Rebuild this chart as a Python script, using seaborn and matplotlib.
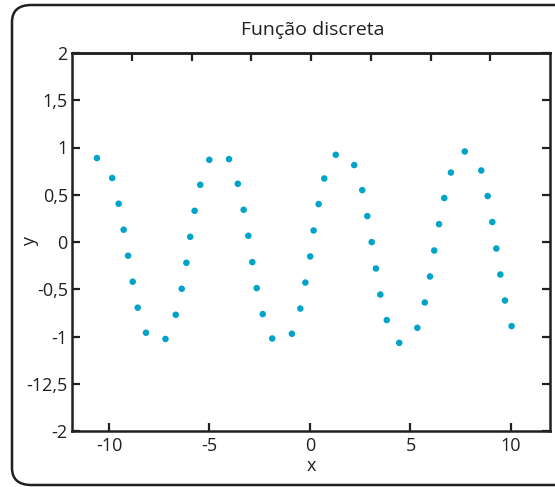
import numpy as np
import pandas as pd
import matplotlib
matplotlib.use("Agg")
import matplotlib.pyplot as plt
import seaborn as sns
from matplotlib.patches import FancyBboxPatch

# pontos
x_vals = [-10.60, -9.84, -9.52, -9.27, -9.05, -8.82, -8.57, -8.16,
          -7.19, -6.68, -6.38, -6.15, -5.96, -5.74, -5.46, -5.01,
          -4.03, -3.59, -3.30, -3.07, -2.87, -2.65, -2.35, -1.88,
          -0.90, -0.48, -0.23, 0.01, 0.18, 0.43, 0.71, 1.28,
          2.20, 2.60, 2.85, 3.07, 3.28, 3.50, 3.82, 4.44,
          5.34, 5.71, 5.97, 6.18, 6.42, 6.68, 7.01, 7.70,
          8.52, 8.84, 9.07, 9.27, 9.47, 9.70, 10.03]
y_vals = [0.888, 0.677, 0.405, 0.130, -0.145, -0.420, -0.695, -0.960,
          -1.026, -0.770, -0.495, -0.220, 0.055, 0.330, 0.605, 0.870,
          0.877, 0.616, 0.341, 0.066, -0.213, -0.488, -0.763, -1.021,
          -0.971, -0.704, -0.429, -0.153, 0.122, 0.401, 0.672, 0.923,
          0.814, 0.549, 0.274, -0.001, -0.280, -0.556, -0.826, -1.067,
          -0.908, -0.640, -0.365, -0.090, 0.189, 0.465, 0.735, 0.958,
          0.757, 0.486, 0.211, -0.069, -0.344, -0.619, -0.890]
x_ticks = [-10, -5, 0, 5, 10]
y_ticks = [2, 1.5, 1, 0.5, 0, -0.5, -1, -1.5, -2]
y_tick_labels = ['2', '1,5', '1', '0,5', '0', '-0,5', '-1', '-12,5', '-2']

df = pd.DataFrame({'x': x_vals, 'y': y_vals})

sns.set_style("white")
plt.rcParams['font.family'] = ['Open Sans', 'DejaVu Sans']

fig = plt.figure(figsize=(5.55, 4.87), dpi=100)
ax = fig.add_axes([72 / 555, 56 / 487, (550 - 72) / 555, (431 - 53) / 487])

sns.scatterplot(data=df, x='x', y='y', ax=ax, color='#00a3c9', s=22,
                edgecolor='none', linewidth=0)

xmin, xmax = -11.84, 11.94
ax.set_xlim(xmin, xmax)
ax.set_ylim(-2, 2)
ax.set_xticks(x_ticks)
ax.set_xticklabels([str(v) for v in x_ticks])
ax.set_yticks(y_ticks)
ax.set_yticklabels(y_tick_labels)
ax.tick_params(direction='in', length=6, width=1.6, labelsize=13, colors='#231f20',
               right=True, left=True, bottom=True, top=False, pad=3)
ax.tick_params(axis='x', pad=4)

# ticks de cima: divisões iguais do eixo
top = ax.secondary_xaxis('top')
top.set_xticks(np.linspace(xmin, xmax, 9)[1:-1])
top.set_xticklabels([])
top.tick_params(direction='in', length=6, width=1.6, colors='#231f20')
top.spines['top'].set_linewidth(1.8)

for sp in ax.spines.values():
    sp.set_linewidth(1.8)
    sp.set_color('#231f20')

ax.set_xlabel('x', fontsize=13, color='#231f20', labelpad=2)
ax.set_ylabel('y', fontsize=13, color='#231f20')
ax.yaxis.set_label_coords(-0.068, 0.5)
fig.text(0.564, 1 - 30 / 487, 'Função discreta', ha='center', va='center',
         fontsize=14, color='#231f20')

# moldura arredondada (lado direito fora da imagem)
frame = FancyBboxPatch((12 / 555, 2 / 487), 1.1, 480 / 487,
                       boxstyle='round,pad=0,rounding_size=0.035',
                       transform=fig.transFigure, fill=False,
                       edgecolor='#231f20', linewidth=1.8)
fig.patches.append(frame)

plt.savefig('out.png', dpi=100)
plt.close()
